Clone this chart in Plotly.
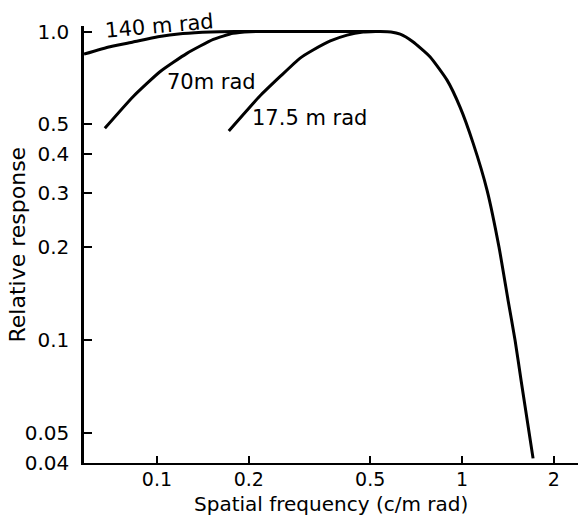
import plotly.graph_objects as go

# ---- data ----
freq_140_rise = [0.0577, 0.0702, 0.0835, 0.1008, 0.1216, 0.15, 0.18]
resp_140_rise = [0.845, 0.893, 0.925, 0.962, 0.985, 0.997, 1.0]

freq_env = [0.25, 0.35, 0.45, 0.54, 0.585, 0.627, 0.690, 0.785, 0.893, 0.985, 1.087,
            1.208, 1.322, 1.415, 1.492, 1.561, 1.658, 1.709]
resp_env = [1.0, 1.0, 1.0, 1.0, 0.997, 0.981, 0.927, 0.829, 0.696, 0.569, 0.435,
            0.306, 0.2, 0.1348, 0.1, 0.0742, 0.0503, 0.0414]

freq_70 = [0.0675, 0.0835, 0.1023, 0.1254, 0.153, 0.1774, 0.202, 0.23]
resp_70 = [0.486, 0.615, 0.741, 0.850, 0.943, 0.987, 0.999, 1.0]

freq_17 = [0.172, 0.2175, 0.253, 0.294, 0.325, 0.37, 0.420, 0.474, 0.52]
resp_17 = [0.476, 0.618, 0.714, 0.819, 0.871, 0.932, 0.974, 0.996, 1.0]

x_tickvals = [0.1, 0.2, 0.5, 1, 2]
x_ticktext = ["0.1", "0.2", "0.5", "1", "2"]
y_tickvals = [0.04, 0.05, 0.1, 0.2, 0.3, 0.4, 0.5, 1.0]
y_ticktext = ["0.04", "0.05", "0.1", "0.2", "0.3", "0.4", "0.5", "1.0"]

labels = ["140 m rad", "70m rad", "17.5 m rad"]

FONT = "DejaVu Sans"
line = dict(color="black", width=3, shape="spline", smoothing=0.5)

fig = go.Figure()
fig.add_trace(go.Scatter(x=freq_140_rise + freq_env, y=resp_140_rise + resp_env,
                         mode="lines", line=line, name=labels[0]))
fig.add_trace(go.Scatter(x=freq_70, y=resp_70, mode="lines", line=line, name=labels[1]))
fig.add_trace(go.Scatter(x=freq_17, y=resp_17, mode="lines", line=line, name=labels[2]))

fig.update_layout(
    width=578, height=517,
    margin=dict(l=84, r=0, t=26, b=54),
    paper_bgcolor="white", plot_bgcolor="white",
    showlegend=False,
    font=dict(family=FONT, size=19, color="black"),
)
fig.update_xaxes(
    type="log", range=[-1.239, 0.38],
    showline=True, linecolor="black", linewidth=2,
    showgrid=False, zeroline=False,
    ticks="inside", ticklen=7, tickwidth=1.5, tickcolor="black",
    tickvals=x_tickvals, ticktext=x_ticktext,
    tickfont=dict(family=FONT, size=19),
    ticklabelstandoff=-2,
)
fig.update_yaxes(
    type="log", range=[-1.398, 0.018],
    showline=True, linecolor="black", linewidth=2.5,
    showgrid=False, zeroline=False,
    ticks="inside", ticklen=8, tickwidth=1.5, tickcolor="black",
    tickvals=y_tickvals, ticktext=y_ticktext,
    tickfont=dict(family=FONT, size=20),
    ticklabelstandoff=8,
)

ann = [
    dict(text="Spatial frequency (c/m rad)", xref="paper", yref="paper", x=0.5, y=0,
         yshift=-41, xanchor="center", yanchor="middle", showarrow=False,
         font=dict(family=FONT, size=20)),
    dict(text="Relative response", xref="paper", yref="paper", x=0, y=0.5,
         xshift=-67, xanchor="center", yanchor="middle", textangle=-90, showarrow=False,
         font=dict(family=FONT, size=22)),
    dict(text=labels[0], xref="paper", yref="paper", x=0.152, y=1.0, textangle=-5,
         xanchor="center", yanchor="middle", showarrow=False, font=dict(family=FONT, size=21)),
    dict(text=labels[1], xref="paper", yref="paper", x=0.259, y=0.872,
         xanchor="center", yanchor="middle", showarrow=False, font=dict(family=FONT, size=21)),
    dict(text=labels[2], xref="paper", yref="paper", x=0.457, y=0.789,
         xanchor="center", yanchor="middle", showarrow=False, font=dict(family=FONT, size=21)),
]
fig.update_layout(annotations=ann)

fig.write_html("out.html", config={"displayModeBar": False},
               post_script="document.body.style.margin='0';document.body.style.overflow='hidden';")
